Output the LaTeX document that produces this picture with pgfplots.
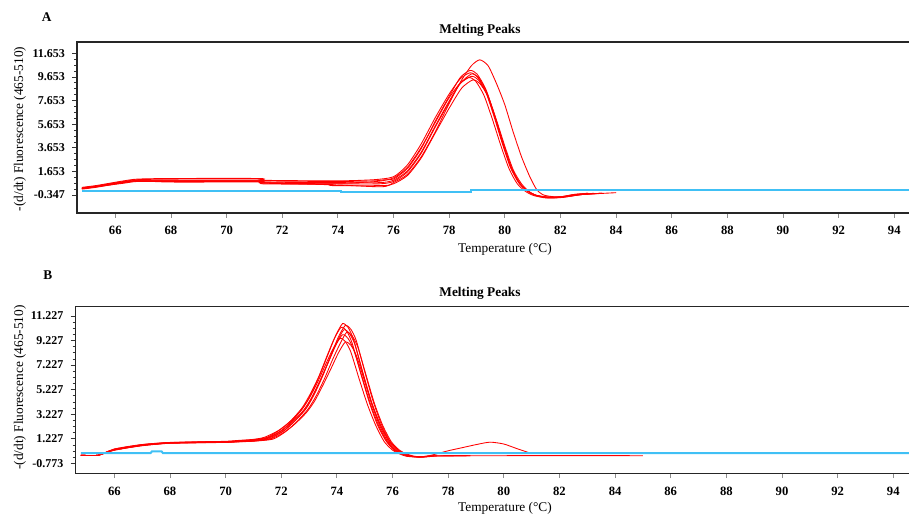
\documentclass[border=0pt]{standalone}
\usepackage{fontspec}
\setmainfont{Liberation Serif}
\usepackage{pgfplots}
\pgfplotsset{compat=1.18}
\definecolor{meltred}{RGB}{255,0,0}
\definecolor{meltblue}{RGB}{64,192,245}

\pgfplotsset{
  meltaxis/.style={
    scale only axis, anchor=north west,
    axis line style={black!85, line width=1pt},
    tick pos=left, tick align=outside,
    major tick length=3.5pt, minor tick length=2pt,
    xtick={66,68,...,94},
    minor y tick num=3,
    x tick style={black!45, line width=0.6pt},
    y tick style={black!80, line width=0.5pt},
    /pgf/number format/assume math mode=true,
    xticklabel style={font=\fontsize{9.5}{11}\selectfont\bfseries, yshift=-3pt},
    yticklabel style={font=\fontsize{9}{11}\selectfont\bfseries, xshift=-2pt},
  },
  redcurve/.style={meltred, line width=0.65pt, smooth, tension=0.4},
  bluecurve/.style={meltblue, line width=1.5pt},
}

\begin{document}
\begin{tikzpicture}
\path[use as bounding box] (0,0) rectangle (681.75pt,388.5pt);

% ---------- panel A ----------
\begin{axis}[meltaxis,
  at={(57.75pt,357pt)}, width=626.25pt, height=128.25pt,
  xmin=64.623, xmax=94.638, ymin=-1.871, ymax=12.61,
  ytick={-0.347,1.653,3.653,5.653,7.653,9.653,11.653},
  yticklabels={-0.347,1.653,3.653,5.653,7.653,9.653,11.653},
]
\addplot[redcurve] coordinates {(64.8,0.25)(65.3,0.4)(65.8,0.6)(66.3,0.8)(66.8,0.95)(68,1.0)(71.2,1.0)(71.3,0.85)(74,0.8)(75.3,0.85)(75.7,0.95)
 (76.0,1.0)(76.5,1.9)(77.0,3.6)(77.5,5.9)(78.0,8.0)(78.4,9.6)(78.75,10.2)(79.0,9.9)(79.3,8.7)(79.6,6.6)(79.9,4.2)(80.2,2.1)(80.5,0.7)(80.8,0.0)(81.1,-0.35)(81.5,-0.5)(82.0,-0.5)(82.5,-0.3)(83.0,-0.2)};
\addplot[redcurve] coordinates {(64.8,0.2)(65.3,0.35)(65.8,0.55)(66.3,0.75)(66.8,0.9)(68,0.9)(71.2,0.9)(71.3,0.75)(74,0.7)(75.5,0.7)
 (76.0,0.9)(76.5,1.7)(77.0,3.3)(77.5,5.5)(78.0,7.6)(78.4,9.1)(78.8,9.9)(79.05,9.6)(79.35,8.4)(79.65,6.3)(79.95,4.0)(80.25,1.9)(80.55,0.6)(80.85,-0.05)(81.15,-0.4)(81.6,-0.55)(82.1,-0.5)(82.6,-0.3)(83.5,-0.2)};
\addplot[redcurve] coordinates {(64.8,0.25)(65.3,0.4)(65.8,0.6)(66.3,0.75)(66.8,0.85)(68,0.85)(71.2,0.85)(71.3,0.7)(74,0.65)(75.4,0.8)
 (76.0,1.1)(76.5,2.0)(77.0,3.7)(77.5,5.8)(77.95,7.7)(78.35,9.0)(78.7,9.6)(78.95,9.3)(79.25,8.1)(79.55,6.1)(79.85,3.9)(80.15,1.9)(80.45,0.6)(80.75,-0.05)(81.05,-0.4)(81.5,-0.6)(82.0,-0.55)(82.5,-0.35)(84.0,-0.15)};
\addplot[redcurve] coordinates {(64.8,0.15)(65.3,0.3)(65.8,0.5)(66.3,0.65)(66.8,0.8)(68,0.8)(71.2,0.8)(71.3,0.6)(73.7,0.55)(73.8,0.45)(75.6,0.45)
 (76.0,0.6)(76.5,1.3)(77.0,2.8)(77.5,4.9)(78.0,7.0)(78.45,8.7)(78.85,9.4)(79.1,9.1)(79.4,8.0)(79.7,6.0)(80.0,3.8)(80.3,1.8)(80.6,0.6)(80.9,-0.1)(81.2,-0.45)(81.6,-0.6)(82.1,-0.55)(82.6,-0.35)(83.2,-0.2)};
\addplot[redcurve] coordinates {(64.8,0.3)(65.3,0.45)(65.8,0.65)(66.3,0.85)(66.8,1.0)(68,1.05)(71.2,1.05)(71.3,0.9)(74,0.85)(75.3,0.95)
 (76.0,1.2)(76.5,2.2)(77.0,4.0)(77.5,6.2)(78.0,8.2)(78.4,9.5)(78.75,10.0)(79.0,9.7)(79.3,8.5)(79.6,6.4)(79.9,4.1)(80.2,2.0)(80.5,0.7)(80.8,0.0)(81.1,-0.35)(81.5,-0.55)(82.0,-0.5)(82.5,-0.3)(83.0,-0.2)};
\addplot[redcurve] coordinates {(64.8,0.2)(65.3,0.35)(65.8,0.55)(66.3,0.7)(66.8,0.85)(68,0.75)(71.2,0.75)(71.3,0.65)(74,0.6)(75.5,0.6)
 (76.0,0.8)(76.5,1.6)(77.0,3.2)(77.5,5.4)(78.0,7.5)(78.4,9.1)(78.8,9.7)(79.05,9.4)(79.35,8.2)(79.65,6.2)(79.95,3.9)(80.25,1.9)(80.55,0.6)(80.85,-0.05)(81.15,-0.4)(81.6,-0.55)(82.2,-0.5)(82.8,-0.3)(83.5,-0.2)};
\addplot[redcurve] coordinates {(64.8,0.2)(65.3,0.35)(65.8,0.5)(66.3,0.7)(66.8,0.85)(68,0.85)(71.2,0.85)(71.3,0.7)(74,0.5)(75.6,0.35)
 (76.0,0.7)(76.5,1.4)(77.0,2.9)(77.5,5.0)(78.0,7.4)(78.4,9.2)(78.8,10.6)(79.1,11.1)(79.4,10.6)(79.7,9.1)(80.0,7.3)(80.3,5.0)(80.6,2.9)(80.9,1.2)(81.15,0.1)(81.4,-0.35)(81.8,-0.5)(82.3,-0.45)(82.8,-0.3)(83.5,-0.2)};
\addplot[bluecurve] coordinates {(64.8,0.02)(74.1,0.02)(74.1,-0.12)(78.8,-0.12)(78.8,0.05)(94.7,0.05)};
\end{axis}

% ---------- panel B ----------
\begin{axis}[meltaxis,
  at={(56.5pt,158.5pt)}, width=627.5pt, height=125pt,
  xmin=64.598, xmax=94.673, ymin=-1.587, ymax=11.984,
  ytick={-0.773,1.227,3.227,5.227,7.227,9.227,11.227},
  yticklabels={-0.773,1.227,3.227,5.227,7.227,9.227,11.227},
]
\addplot[redcurve] coordinates {(64.8,-0.12)(65.4,-0.12)(65.8,0.2)(66.0,0.35)(66.5,0.55)(67.0,0.72)(67.5,0.82)(68.0,0.9)(69.0,0.95)(70.0,0.98)(70.5,1.05)(71.0,1.12)(71.5,1.3)
 (72.0,1.9)(72.4,2.7)(72.8,3.8)(73.1,5.0)(73.4,6.5)(73.7,8.2)(73.95,9.6)(74.2,10.6)(74.4,10.3)(74.6,9.3)(74.9,6.8)(75.2,4.4)(75.5,2.5)(75.8,1.1)(76.1,0.3)(76.35,0.0)(76.6,-0.2)(77.0,-0.25)(77.4,-0.18)(78.8,-0.15)};
\addplot[redcurve] coordinates {(64.8,-0.12)(65.4,-0.12)(65.8,0.18)(66.0,0.3)(66.5,0.5)(67.0,0.68)(67.5,0.8)(68.0,0.88)(69.0,0.92)(70.0,0.95)(70.5,1.0)(71.0,1.05)(71.6,1.25)
 (72.1,1.9)(72.5,2.7)(72.9,3.7)(73.2,4.9)(73.5,6.4)(73.8,8.1)(74.05,9.5)(74.3,10.45)(74.5,10.15)(74.7,9.2)(75.0,6.7)(75.3,4.3)(75.6,2.4)(75.9,1.05)(76.2,0.3)(76.45,0.0)(76.7,-0.2)(77.1,-0.25)(77.5,-0.15)};
\addplot[redcurve] coordinates {(64.8,-0.12)(65.4,-0.12)(65.8,0.22)(66.0,0.38)(66.5,0.58)(67.0,0.75)(67.5,0.85)(68.0,0.92)(69.0,0.97)(70.0,1.0)(70.5,1.07)(71.0,1.15)(71.5,1.35)
 (71.95,1.95)(72.35,2.7)(72.75,3.75)(73.05,4.9)(73.35,6.3)(73.65,8.0)(73.9,9.35)(74.15,10.3)(74.35,10.0)(74.55,9.0)(74.85,6.6)(75.15,4.3)(75.45,2.4)(75.75,1.1)(76.05,0.3)(76.3,0.0)(76.6,-0.2)(77.0,-0.25)(77.4,-0.18)(80.0,-0.15)(85.0,-0.15)};
\addplot[redcurve] coordinates {(64.8,-0.12)(65.4,-0.12)(65.8,0.2)(66.0,0.33)(66.5,0.53)(67.0,0.7)(67.5,0.8)(68.0,0.88)(69.0,0.93)(70.0,0.96)(70.5,1.02)(71.0,1.08)(71.5,1.25)
 (72.05,1.8)(72.45,2.6)(72.85,3.6)(73.15,4.8)(73.45,6.2)(73.75,7.8)(74.0,9.1)(74.25,10.1)(74.45,9.8)(74.65,8.9)(74.95,6.5)(75.25,4.2)(75.55,2.4)(75.85,1.05)(76.15,0.3)(76.4,0.0)(76.7,-0.2)(77.1,-0.25)(77.5,-0.05)(78.0,0.25)(78.5,0.5)(79.0,0.75)(79.5,0.95)(80.0,0.8)(80.5,0.4)(80.9,0.1)(81.0,0.05)};
\addplot[redcurve] coordinates {(64.8,-0.12)(65.4,-0.12)(65.8,0.18)(66.0,0.3)(66.5,0.5)(67.0,0.66)(67.5,0.78)(68.0,0.86)(69.0,0.9)(70.0,0.93)(70.5,0.98)(71.0,1.03)(71.7,1.2)
 (72.15,1.8)(72.55,2.6)(72.95,3.6)(73.25,4.7)(73.55,6.1)(73.85,7.7)(74.1,8.9)(74.35,9.9)(74.55,9.6)(74.75,8.7)(75.05,6.4)(75.35,4.1)(75.65,2.3)(75.95,1.0)(76.25,0.3)(76.5,0.0)(76.8,-0.2)(77.2,-0.25)(77.6,-0.15)};
\addplot[redcurve] coordinates {(64.8,-0.12)(65.4,-0.12)(65.8,0.21)(66.0,0.36)(66.5,0.56)(67.0,0.73)(67.5,0.83)(68.0,0.9)(69.0,0.95)(70.0,0.97)(70.5,1.03)(71.0,1.1)(71.5,1.28)
 (72.0,1.85)(72.4,2.6)(72.8,3.55)(73.1,4.6)(73.4,6.0)(73.7,7.5)(73.95,8.8)(74.2,9.7)(74.4,9.4)(74.6,8.5)(74.9,6.3)(75.2,4.1)(75.5,2.3)(75.8,1.0)(76.1,0.3)(76.35,0.0)(76.6,-0.2)(77.0,-0.25)(77.4,-0.18)(77.8,-0.15)(78.8,-0.15)};
\addplot[redcurve] coordinates {(64.8,-0.12)(65.4,-0.12)(65.8,0.23)(66.0,0.4)(66.5,0.6)(67.0,0.76)(67.5,0.86)(68.0,0.93)(69.0,0.98)(70.0,1.02)(70.5,1.1)(71.0,1.18)(71.4,1.35)
 (71.9,1.9)(72.3,2.6)(72.7,3.5)(73.0,4.5)(73.3,5.8)(73.6,7.3)(73.85,8.5)(74.1,9.4)(74.3,9.15)(74.5,8.3)(74.8,6.1)(75.1,4.0)(75.4,2.3)(75.7,1.0)(76.0,0.3)(76.25,0.0)(76.5,-0.2)(76.9,-0.25)(77.3,-0.18)};
\addplot[redcurve] coordinates {(64.8,-0.12)(65.4,-0.12)(65.8,0.19)(66.0,0.32)(66.5,0.52)(67.0,0.69)(67.5,0.79)(68.0,0.87)(69.0,0.91)(70.0,0.94)(70.5,0.99)(71.0,1.04)(71.6,1.2)
 (72.1,1.75)(72.5,2.45)(72.9,3.35)(73.2,4.3)(73.5,5.6)(73.8,7.0)(74.05,8.2)(74.3,9.1)(74.5,8.85)(74.7,8.0)(75.0,5.9)(75.3,3.8)(75.6,2.2)(75.9,1.0)(76.2,0.3)(76.45,0.0)(76.7,-0.2)(77.1,-0.25)(77.5,-0.15)};
\addplot[bluecurve] coordinates {(64.8,0.05)(67.3,0.05)(67.35,0.2)(67.7,0.2)(67.75,0.05)(94.7,0.05)};
\end{axis}

% ---------- panel letters, titles and axis labels ----------
\begin{scope}[every node/.style={inner sep=0pt}]
\node[font=\fontsize{10}{12}\selectfont\bfseries] at (35pt,376pt) {A};
\node[font=\fontsize{10}{12}\selectfont\bfseries] at (35.8pt,182.25pt) {B};
\node[font=\fontsize{10}{12}\selectfont\bfseries] at (360pt,365.5pt) {Melting Peaks};
\node[font=\fontsize{10}{12}\selectfont\bfseries] at (360pt,168.5pt) {Melting Peaks};
\node[font=\fontsize{10}{12}\selectfont] at (378.75pt,201.5pt) {Temperature (°C)};
\node[font=\fontsize{10}{12}\selectfont] at (378.75pt,7.3pt) {Temperature (°C)};
\node[font=\fontsize{10}{12}\selectfont, rotate=90] at (15pt,291.75pt) {-(d/dt) Fluorescence (465-510)};
\node[font=\fontsize{10}{12}\selectfont, rotate=90] at (15pt,97.9pt) {-(d/dt) Fluorescence (465-510)};
\end{scope}
\end{tikzpicture}
\end{document}
